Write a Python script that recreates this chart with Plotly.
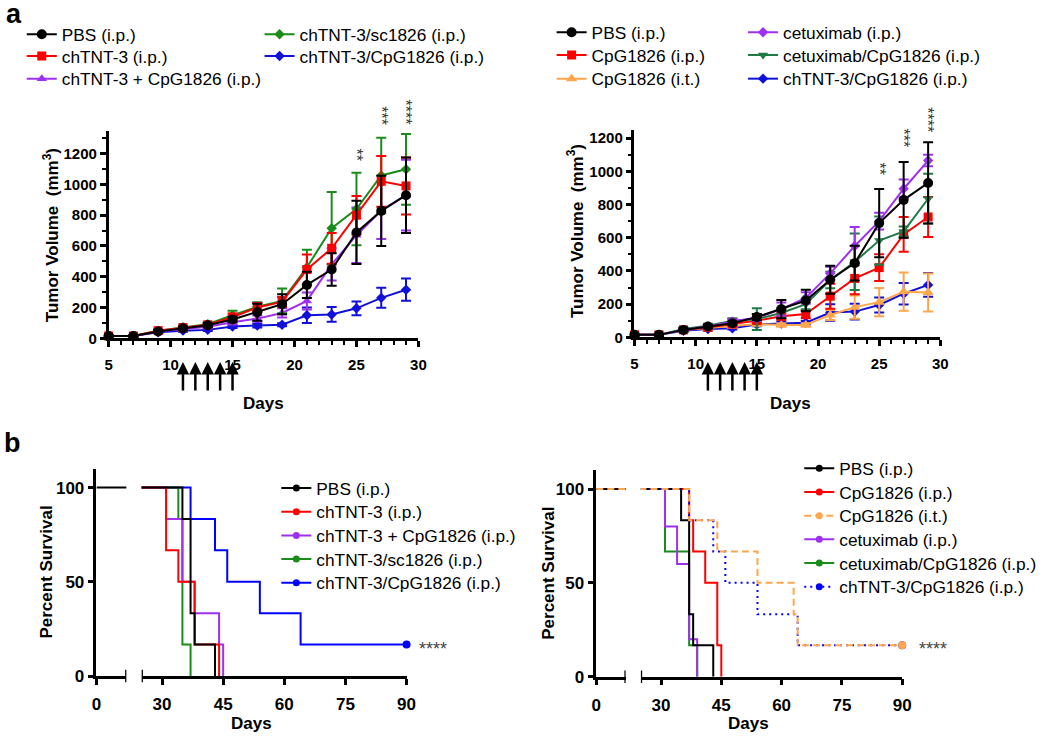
import plotly.graph_objects as go

W, H = 1050, 737
FONT = "Arial, Liberation Sans, sans-serif"

# ---------------- panel a : tumour volume (mean +/- SEM) ----------------
days = [5, 7, 9, 11, 13, 15, 17, 19, 21, 23, 25, 27, 29]
treat_days = [11, 12, 13, 14, 15]

pbs_mean = [15, 15, 45, 65, 85, 122, 170, 222, 347, 447, 688, 828, 930]
pbs_sem = [5, 5, 8, 10, 12, 18, 55, 65, 85, 105, 205, 228, 245]

chtnt_mean = [15, 15, 50, 70, 88, 137, 201, 237, 447, 585, 800, 1020, 990]
chtnt_sem = [4, 4, 8, 10, 12, 25, 28, 32, 97, 100, 125, 165, 185]

mix_mean = [15, 15, 45, 60, 75, 105, 128, 165, 243, 480, 670, 830, 930]
mix_sem = [4, 4, 8, 8, 10, 15, 20, 30, 55, 105, 180, 185, 230]

sc_mean = [15, 15, 50, 72, 92, 150, 205, 243, 461, 715, 840, 1058, 1098]
sc_sem = [4, 4, 8, 10, 12, 30, 30, 80, 115, 235, 235, 245, 230]

conj_mean = [15, 15, 40, 50, 55, 77, 83, 88, 150, 155, 195, 263, 316]
conj_sem = [4, 4, 6, 8, 8, 10, 12, 10, 50, 48, 45, 65, 72]

cpg_ip_mean = [15, 15, 45, 60, 80, 101, 127, 140, 248, 355, 420, 620, 725]
cpg_ip_sem = [4, 4, 8, 8, 10, 15, 20, 25, 75, 95, 80, 105, 120]

cpg_it_mean = [15, 15, 45, 55, 68, 80, 75, 75, 135, 182, 212, 275, 270]
cpg_it_sem = [4, 4, 6, 8, 10, 10, 10, 10, 30, 70, 85, 115, 115]

cetux_mean = [15, 15, 45, 65, 95, 119, 170, 237, 385, 550, 700, 895, 1065]
cetux_sem = [4, 4, 8, 10, 15, 20, 40, 35, 40, 115, 50, 55, 35]

cetux_cpg_mean = [15, 15, 50, 70, 100, 110, 147, 200, 345, 455, 583, 638, 835]
cetux_cpg_sem = [4, 4, 8, 12, 15, 65, 30, 30, 50, 170, 145, 30, 150]

star_days = [25, 27, 29]
star_text = ["**", "***", "****"]

# ---------------- panel b : survival (Kaplan-Meier steps) ----------------
pbs_days = [0, 35, 37, 38, 43]
pbs_surv = [100, 83.3, 33.3, 16.7, 0]

chtnt_days = [0, 31, 34, 38, 44]
chtnt_surv = [100, 66.7, 50, 16.7, 0]

mix_days = [0, 31, 35, 38, 44, 45]
mix_surv = [100, 83.3, 50, 33.3, 16.7, 0]

sc_days = [0, 34, 35, 37]
sc_surv = [100, 83.3, 16.7, 0]

conj_days = [0, 37, 43, 46, 54, 64, 90]
conj_surv = [100, 83.3, 66.7, 50, 33.3, 16.7, 16.7]

cpg_ip_days = [0, 37, 38, 41, 44, 45]
cpg_ip_surv = [100, 83.3, 66.7, 50, 16.7, 0]

cpg_it_days = [0, 37, 44, 54, 63, 64, 90]
cpg_it_surv = [100, 83.3, 66.7, 50, 33.3, 16.7, 16.7]

cetux_days = [0, 31, 34, 37, 39]
cetux_surv = [100, 80, 60, 20, 0]

cetux_cpg_days = [0, 31, 37, 39]
cetux_cpg_surv = [100, 66.7, 16.7, 0]

BLACK = "#000000"
RED = "#ff0000"
PURPLE = "#a030f0"
GREEN = "#1a8c1a"
TEAL = "#1e7b45"
BLUE = "#1010d8"
ORANGE = "#ffa64d"


def px(x):
    return x / W


def py(y):
    return 1 - y / H


fig = go.Figure()
legends = {}


# one legend box per entry so every row sits where it should
def new_legend(text_left, center, size=17.3):
    name = "legend" if not legends else "legend%d" % (len(legends) + 1)
    legends[name] = dict(x=px(text_left - 44), y=py(center), xanchor="left", yanchor="middle",
                         bgcolor="rgba(0,0,0,0)", itemwidth=30,
                         font=dict(family=FONT, size=size, color="black"))
    return name


# growth curves
def growth(mean, sem, name, color, symbol, size, xa, ya, slot):
    fig.add_trace(go.Scatter(
        x=days, y=mean, name=name, mode="lines+markers",
        line=dict(color=color, width=2),
        marker=dict(symbol=symbol, size=size, color=color),
        error_y=dict(type="data", array=sem, color=color, thickness=2, width=5),
        xaxis=xa, yaxis=ya, legend=new_legend(*slot), cliponaxis=False,
    ))


growth(conj_mean, conj_sem, "chTNT-3/CpG1826 (i.p.)", BLUE, "diamond", 8, "x", "y", (302, 57))
growth(mix_mean, mix_sem, "chTNT-3 + CpG1826 (i.p.)", PURPLE, "triangle-up", 9, "x", "y", (61, 80))
growth(sc_mean, sc_sem, "chTNT-3/sc1826 (i.p.)", GREEN, "diamond", 8, "x", "y", (302, 35))
growth(chtnt_mean, chtnt_sem, "chTNT-3 (i.p.)", RED, "square", 9, "x", "y", (61, 57))
growth(pbs_mean, pbs_sem, "PBS (i.p.)", BLACK, "circle", 10, "x", "y", (61, 35))

growth(conj_mean, conj_sem, "chTNT-3/CpG1826 (i.p.)", BLUE, "diamond", 8, "x2", "y2", (792, 80))
growth(cpg_it_mean, cpg_it_sem, "CpG1826 (i.t.)", ORANGE, "triangle-up", 10, "x2", "y2", (598, 80))
growth(cpg_ip_mean, cpg_ip_sem, "CpG1826 (i.p.)", RED, "square", 9, "x2", "y2", (598, 56))
growth(cetux_cpg_mean, cetux_cpg_sem, "cetuximab/CpG1826 (i.p.)", TEAL, "triangle-down", 9, "x2", "y2", (792, 56))
growth(cetux_mean, cetux_sem, "cetuximab (i.p.)", PURPLE, "diamond", 8, "x2", "y2", (792, 33))
growth(pbs_mean, pbs_sem, "PBS (i.p.)", BLACK, "circle", 10, "x2", "y2", (598, 33))


# survival curves, drawn on both segments of the broken x axis
# (the first segment only holds the 100 % plateau, so only the top curves are drawn there)
def survival(d, s, name, color, dash, xa1, xa2, ya, slot, censored=False, seg1=False):
    for xa in ((xa1, xa2) if seg1 else (xa2,)):
        fig.add_trace(go.Scatter(
            x=d, y=s, mode="lines", line=dict(color=color, width=2, dash=dash, shape="hv"),
            xaxis=xa, yaxis=ya, showlegend=False, hoverinfo="skip",
        ))
    if censored:
        fig.add_trace(go.Scatter(
            x=[d[-1]], y=[s[-1]], mode="markers", marker=dict(color=color, size=8),
            xaxis=xa2, yaxis=ya, showlegend=False, cliponaxis=False,
        ))
    # legend entry (line with a dot, as in Prism)
    fig.add_trace(go.Scatter(
        x=[None], y=[None], mode="lines+markers", name=name,
        line=dict(color=color, width=2, dash=dash), marker=dict(color=color, size=7),
        xaxis=xa2, yaxis=ya, legend=new_legend(*slot),
    ))


survival(conj_days, conj_surv, "chTNT-3/CpG1826 (i.p.)", "#0000ff", "solid", "x3", "x4", "y3", (319, 591), True)
survival(sc_days, sc_surv, "chTNT-3/sc1826 (i.p.)", GREEN, "solid", "x3", "x4", "y3", (319, 567))
survival(mix_days, mix_surv, "chTNT-3 + CpG1826 (i.p.)", PURPLE, "solid", "x3", "x4", "y3", (319, 543))
survival(chtnt_days, chtnt_surv, "chTNT-3 (i.p.)", RED, "solid", "x3", "x4", "y3", (319, 519))
survival(pbs_days, pbs_surv, "PBS (i.p.)", BLACK, "solid", "x3", "x4", "y3", (319, 495), seg1=True)

survival(cetux_cpg_days, cetux_cpg_surv, "cetuximab/CpG1826 (i.p.)", GREEN, "solid", "x5", "x6", "y4", (849, 571))
survival(cetux_days, cetux_surv, "cetuximab (i.p.)", PURPLE, "solid", "x5", "x6", "y4", (849, 547))
survival(cpg_ip_days, cpg_ip_surv, "CpG1826 (i.p.)", RED, "solid", "x5", "x6", "y4", (849, 499))
survival(pbs_days, pbs_surv, "PBS (i.p.)", BLACK, "solid", "x5", "x6", "y4", (849, 475), seg1=True)
survival(conj_days, conj_surv, "chTNT-3/CpG1826 (i.p.)", "#0000ff", "2px,4px", "x5", "x6", "y4", (849, 595), True)
survival(cpg_it_days, cpg_it_surv, "CpG1826 (i.t.)", ORANGE, "7px,4px", "x5", "x6", "y4", (849, 523), True, seg1=True)

# axes
tick_bold15 = dict(family=FONT, size=15, color="black", weight="bold")
tick_bold17 = dict(family=FONT, size=17, color="black", weight="bold")
base = dict(showline=True, linecolor="black", linewidth=2.5, ticks="outside", tickwidth=2.5,
            ticklen=6, tickcolor="black", showgrid=False, zeroline=False)
minor_x = dict(dtick=1, ticklen=4, tickwidth=2, tickcolor="black", ticks="outside", showgrid=False)
minor_y = dict(dtick=100, ticklen=4, tickwidth=2, tickcolor="black", ticks="outside", showgrid=False)

fig.update_layout(
    xaxis=dict(base, domain=[px(105), px(419)], range=[5, 30], dtick=5, tick0=0, anchor="y",
               minor=minor_x, tickfont=tick_bold15, ticklabelstandoff=5),
    yaxis=dict(base, domain=[py(343), py(132.3)], range=[0, 1350], dtick=200, anchor="x",
               minor=minor_y, tickfont=tick_bold15),
    xaxis2=dict(base, domain=[px(638), px(948)], range=[5, 30], dtick=5, tick0=0, anchor="y2",
                minor=minor_x, tickfont=tick_bold15, ticklabelstandoff=5),
    yaxis2=dict(base, domain=[py(342), py(131.6)], range=[0, 1250], dtick=200, anchor="x2",
                minor=minor_y, tickfont=tick_bold15),
    xaxis3=dict(base, domain=[px(92.7), px(123)], range=[0, 7.5], tickmode="array", tickvals=[0],
                anchor="y3", tickfont=tick_bold17, ticklabelstandoff=5),
    xaxis4=dict(base, domain=[px(138.5), px(407)], range=[25, 90], dtick=15, tick0=0,
                anchor="y3", tickfont=tick_bold17, ticklabelstandoff=5),
    yaxis3=dict(base, domain=[py(685.3), py(475.2)], range=[0, 110], dtick=50, anchor="x3",
                tickfont=tick_bold17),
    xaxis5=dict(base, domain=[px(599.3), px(629)], range=[0, 7.5], tickmode="array", tickvals=[0],
                anchor="y4", tickfont=tick_bold17, ticklabelstandoff=5),
    xaxis6=dict(base, domain=[px(644.5), px(909.3)], range=[25, 90], dtick=15, tick0=0,
                anchor="y4", tickfont=tick_bold17, ticklabelstandoff=5),
    yaxis4=dict(base, domain=[py(686), py(476.7)], range=[0, 110], dtick=50, anchor="x5",
                tickfont=tick_bold17),
)
fig.update_layout(**legends)

# axis breaks (caps at the ends of each segment)
shapes = []
for xa, ya, xv in [("x3", "y3", 7.5), ("x4", "y3", 25), ("x5", "y4", 7.5), ("x6", "y4", 25)]:
    shapes.append(dict(type="line", xref=xa, yref=ya + " domain", x0=xv, x1=xv, y0=-0.03, y1=0.03,
                       line=dict(color="black", width=2.5)))

ann = []
title_font = dict(family=FONT, size=17, color="black", weight="bold")
# axis titles
ann.append(dict(text="Tumor Volume  (mm<sup>3</sup>)", x=px(46), y=py(238), textangle=-90, font=title_font))
ann.append(dict(text="Tumor Volume  (mm<sup>3</sup>)", x=px(578), y=py(234), textangle=-90, font=title_font))
ann.append(dict(text="Days", x=px(262), y=py(409), font=title_font))
ann.append(dict(text="Days", x=px(796), y=py(409), font=title_font))
ann.append(dict(text="Percent Survival", x=px(42), y=py(580), textangle=-90, font=title_font))
ann.append(dict(text="Percent Survival", x=px(550), y=py(581), textangle=-90, font=title_font))
ann.append(dict(text="Days", x=px(250), y=py(733), font=title_font))
ann.append(dict(text="Days", x=px(754), y=py(733), font=title_font))
ann.append(dict(text="b", x=px(8), y=py(449), font=dict(family=FONT, size=27, color="black", weight="bold")))
for a in ann:
    a.update(xref="paper", yref="paper", xanchor="center", yanchor="middle", showarrow=False)

# panel letter "a" sits right at the top edge
ann.append(dict(text="a", x=0, y=1, xref="paper", yref="paper", xanchor="left", yanchor="top",
                borderpad=0, yshift=2, showarrow=False,
                font=dict(family=FONT, size=27, color="black", weight="bold")))

# treatment arrows under the day axis
for xa in ["x", "x2"]:
    for d in treat_days:
        ann.append(dict(x=d, y=py(367), xref=xa, yref="paper", text="", showarrow=True,
                        ax=0, ay=30, arrowhead=2, arrowsize=1, arrowwidth=2.5, arrowcolor="black"))

# significance stars (stacked vertically above the last three time points)
star_font = dict(family=FONT, size=16, color="#333333")
for d, t, yl, yr in zip(star_days, star_text, [157, 117, 113], [171, 140, 121]):
    ann.append(dict(x=d, y=py(yl), xref="x", yref="paper", text=t, textangle=90, showarrow=False,
                    xanchor="center", yanchor="middle", font=star_font))
    ann.append(dict(x=d, y=py(yr), xref="x2", yref="paper", text=t, textangle=90, showarrow=False,
                    xanchor="center", yanchor="middle", font=star_font))

star_font_b = dict(family=FONT, size=18, color="#444444")
ann.append(dict(x=conj_days[-1], y=conj_surv[-1], xref="x4", yref="y3", text="****", xanchor="left",
                yanchor="middle", xshift=10, yshift=-4, showarrow=False, font=star_font_b))
ann.append(dict(x=cpg_it_days[-1], y=cpg_it_surv[-1], xref="x6", yref="y4", text="****", xanchor="left",
                yanchor="middle", xshift=15, yshift=-4, showarrow=False, font=star_font_b))

fig.update_layout(
    width=W, height=H, margin=dict(l=0, r=0, t=0, b=0),
    paper_bgcolor="white", plot_bgcolor="white",
    annotations=ann, shapes=shapes,
    font=dict(family=FONT, color="black"),
)

fig.write_html("out.html", config={"displayModeBar": False},
               post_script="document.body.style.margin='0';")
